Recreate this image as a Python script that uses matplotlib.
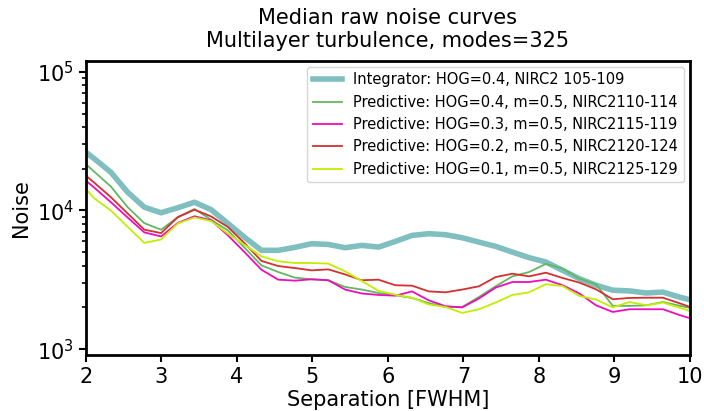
import matplotlib
matplotlib.use("Agg")
import matplotlib.pyplot as plt

# Separation grid in units of FWHM
separation = [1.888, 2.109, 2.331, 2.553, 2.774, 2.996, 3.217, 3.439, 3.660, 3.882,
              4.104, 4.325, 4.547, 4.768, 4.990, 5.211, 5.433, 5.655, 5.876, 6.098,
              6.319, 6.541, 6.762, 6.984, 7.206, 7.427, 7.649, 7.870, 8.092, 8.314,
              8.535, 8.757, 8.978, 9.200, 9.421, 9.643, 9.865, 10.086]

integrator_hog04 = [29350, 23660, 18860, 13540, 10560, 9630, 10460, 11470, 10120, 8060,
                    6390, 5160, 5160, 5420, 5760, 5690, 5390, 5600, 5445, 5980,
                    6610, 6800, 6690, 6360, 5910, 5510, 5010, 4570, 4250, 3700,
                    3225, 2890, 2660, 2630, 2540, 2580, 2370, 2210]

predictive_hog04 = [24460, 19080, 14880, 10560, 8100, 7270, 8950, 10250, 8570, 7180,
                    5370, 4020, 3600, 3280, 3190, 3140, 2810, 2690, 2540, 2450,
                    2340, 2150, 2015, 2015, 2380, 2840, 3350, 3600, 4120, 3810,
                    3225, 2940, 2055, 2050, 2070, 2190, 2055, 1940]

predictive_hog03 = [18460, 14640, 11470, 8900, 6950, 6500, 8130, 9090, 8480, 6610,
                    4990, 3740, 3170, 3120, 3190, 3140, 2690, 2520, 2460, 2430,
                    2610, 2250, 2040, 2000, 2320, 2780, 3050, 3050, 3170, 2890,
                    2520, 2070, 1855, 1940, 1940, 1940, 1760, 1620]

predictive_hog02 = [20050, 15900, 12470, 9520, 7270, 6870, 8950, 10130, 9050, 7590,
                    5790, 4330, 3975, 3845, 3700, 3760, 3460, 3140, 3170, 2890,
                    2870, 2610, 2570, 2690, 2840, 3310, 3500, 3350, 3560, 3260,
                    3020, 2700, 2290, 2340, 2350, 2350, 2140, 1940]

predictive_hog01 = [16660, 12260, 10000, 7630, 5840, 6180, 8060, 8900, 8380, 6800,
                    5640, 4670, 4300, 4180, 4180, 4140, 3640, 3100, 2630, 2470,
                    2350, 2100, 2015, 1825, 1940, 2170, 2460, 2570, 2940, 2850,
                    2420, 2280, 2000, 2190, 2070, 2170, 1990, 1820]

fig = plt.figure(figsize=(7.04, 4.11), dpi=100)
ax = fig.add_axes([0.122, 0.136, 0.858, 0.716])

ax.plot(separation, integrator_hog04, color="teal", alpha=0.5, lw=4,
        label="Integrator: HOG=0.4, NIRC2 105-109")
ax.plot(separation, predictive_hog04, color="#62b862", lw=1.3,
        label="Predictive: HOG=0.4, m=0.5, NIRC2110-114")
ax.plot(separation, predictive_hog03, color="#ee0cbb", lw=1.3,
        label="Predictive: HOG=0.3, m=0.5, NIRC2115-119")
ax.plot(separation, predictive_hog02, color="#d62f2f", lw=1.3,
        label="Predictive: HOG=0.2, m=0.5, NIRC2120-124")
ax.plot(separation, predictive_hog01, color="#c2ee00", lw=1.3,
        label="Predictive: HOG=0.1, m=0.5, NIRC2125-129")

ax.set_yscale("log")
ax.set_xlim(2, 10)
ax.set_ylim(906, 1.2e5)

for side in ax.spines.values():
    side.set_linewidth(2)
ax.tick_params(axis="both", which="major", labelsize=15, width=1.5, length=5)
ax.tick_params(axis="y", which="minor", width=1.2, length=3)

ax.set_xlabel("Separation [FWHM]", fontsize=15, labelpad=2)
ax.set_ylabel("Noise", fontsize=15)
ax.set_title("Median raw noise curves\nMultilayer turbulence, modes=325",
             fontsize=15, pad=10)
ax.legend(loc="upper right", fontsize=10.5, handlelength=2.0, borderaxespad=0.4)

fig.savefig("out.png", dpi=100)
